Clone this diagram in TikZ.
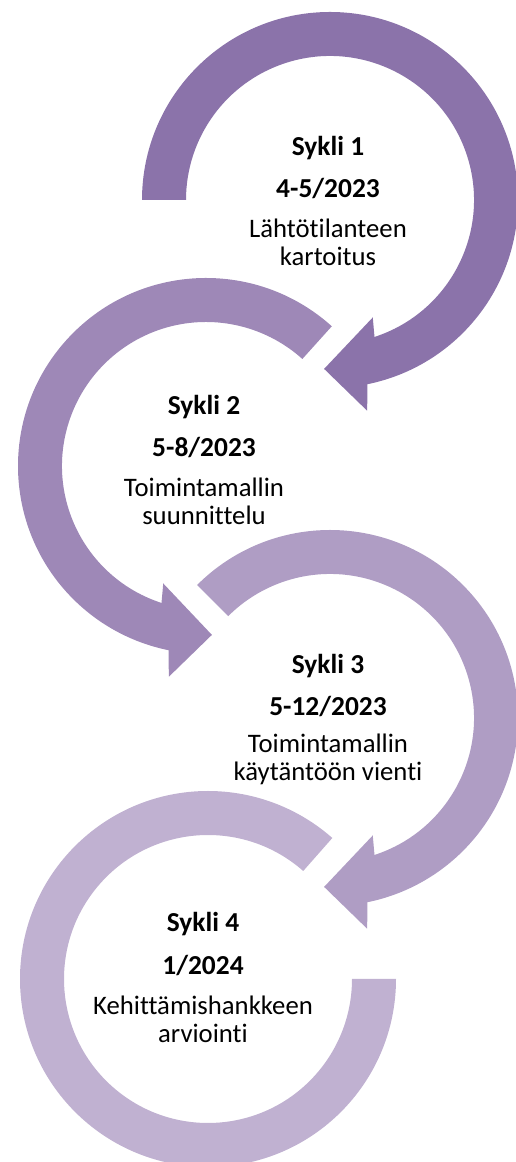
\documentclass[tikz,border=0pt]{standalone}
\usepackage{fontspec}
\setmainfont{Carlito}[Ligatures=NoCommon]
\definecolor{sykliA}{HTML}{8B73AA}
\definecolor{sykliB}{HTML}{9E88B7}
\definecolor{sykliC}{HTML}{AF9DC4}
\definecolor{sykliD}{HTML}{C0B1D1}
\tikzset{
    cyclename/.style={font=\fontsize{15.6pt}{16pt}\selectfont\bfseries, text=black},
    cycledate/.style={font=\fontsize{15.6pt}{16pt}\selectfont\bfseries, text=black},
    cycletext/.style={font=\fontsize{15.2pt}{16pt}\selectfont, text=black, align=center},
}
\begin{document}
\begin{tikzpicture}
    \useasboundingbox (0,0) rectangle (10.3,23.24);

    % 第一个循环箭头
    \fill[sykliA, shift={(6.6,19.24)}] (180:3.76) arc[start angle=180, end angle=-78.5, radius=3.76]
        -- (-80:4.28) -- (-92:3.38) -- (-70:2.50) -- (-72:2.88)
        arc[start angle=-72, end angle=180, radius=2.88] -- cycle;

    % 第二个循环箭头
    \fill[sykliB, shift={(4.12,13.92)}] (48:3.76) arc[start angle=48, end angle=258.5, radius=3.76]
        -- (260:4.28) -- (272:3.38) -- (250:2.50) -- (252:2.88)
        arc[start angle=252, end angle=48, radius=2.88] -- cycle;

    % 第三个循环箭头
    \fill[sykliC, shift={(6.6,8.88)}] (135:3.76) arc[start angle=135, end angle=-78.5, radius=3.76]
        -- (-80:4.28) -- (-92:3.38) -- (-70:2.50) -- (-72:2.88)
        arc[start angle=-72, end angle=135, radius=2.88] -- cycle;

    % 第四个圆环
    \fill[sykliD, shift={(4.16,3.66)}] (0:3.76) arc[start angle=0, end angle=-311.4, radius=3.76]
        -- (-311.4:2.88) arc[start angle=-311.4, end angle=0, radius=2.88] -- cycle;

    % 标注各个循环
    \node[cyclename] (s1) at (6.56,20.28) {Sykli 1};
    \node[cycledate] (d1) at (6.56,19.46) {4-5/2023};
    \node[cycletext] (t1) at (6.56,18.40) {Lähtötilanteen\\kartoitus};

    \node[cyclename] (s2) at (4.08,15.10) {Sykli 2};
    \node[cycledate] (d2) at (4.08,14.28) {5-8/2023};
    \node[cycletext] (t2) at (4.08,13.22) {Toimintamallin\\suunnittelu};

    \node[cyclename] (s3) at (6.56,9.92) {Sykli 3};
    \node[cycledate] (d3) at (6.56,9.10) {5-12/2023};
    \node[cycletext] (t3) at (6.56,8.06) {Toimintamallin\\käytäntöön vienti};

    \node[cyclename] (s4) at (4.06,4.76) {Sykli 4};
    \node[cycledate] (d4) at (4.06,3.92) {1/2024};
    \node[cycletext] (t4) at (4.06,2.86) {Kehittämishankkeen\\arviointi};
\end{tikzpicture}
\end{document}
